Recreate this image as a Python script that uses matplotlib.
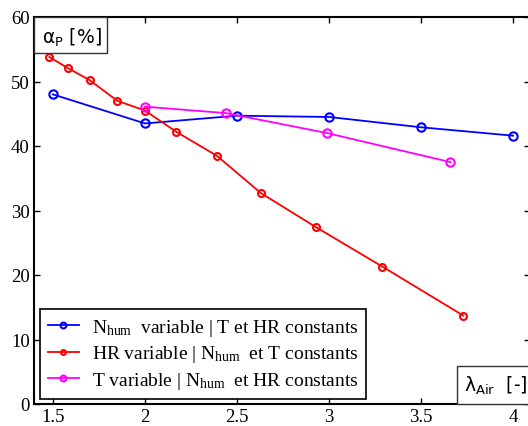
import matplotlib
matplotlib.use("Agg")
import matplotlib.pyplot as plt
from matplotlib.patches import Rectangle

# données
lam_nhum = [1.5, 2.0, 2.5, 3.0, 3.5, 4.0]
alpha_nhum = [48.0, 43.5, 44.7, 44.5, 42.9, 41.6]

lam_hr = [1.48, 1.58, 1.70, 1.85, 2.0, 2.17, 2.39, 2.63, 2.93, 3.29, 3.73]
alpha_hr = [53.8, 52.1, 50.2, 47.0, 45.5, 42.2, 38.5, 32.7, 27.4, 21.3, 13.7]

lam_t = [2.0, 2.44, 2.99, 3.66]
alpha_t = [46.1, 45.1, 42.0, 37.5]

labels = [r"N$_{\mathregular{hum}}\ $ variable | T et HR constants",
          r"HR variable | N$_{\mathregular{hum}}\ $ et T constants",
          r"T variable | N$_{\mathregular{hum}}\ $ et HR constants"]
xticks = [1.5, 2, 2.5, 3, 3.5, 4]
yticks = [0, 10, 20, 30, 40, 50, 60]

plt.rcParams['font.family'] = ['Liberation Serif', 'DejaVu Serif']
plt.rcParams['mathtext.fontset'] = 'custom'
plt.rcParams['mathtext.rm'] = 'Liberation Serif'
plt.rcParams['mathtext.it'] = 'Liberation Serif:italic'

W, H = 528, 427
fig = plt.figure(figsize=(W / 100, H / 100), dpi=100)
ax = fig.add_axes([34 / W, (H - 405) / H, 496 / W, 387 / H])

kw = dict(marker='o', mfc='none', lw=1.3, mew=1.5)
ax.plot(lam_nhum, alpha_nhum, color='#0000ff', ms=6, label=labels[0], **kw)
ax.plot(lam_hr, alpha_hr, color='#ff0000', ms=5, label=labels[1], **kw)
ax.plot(lam_t, alpha_t, color='#ff00ff', ms=6, label=labels[2], **kw)

ax.set_xlim(1.397, 4.092)
ax.set_ylim(0, 60)
ax.set_xticks(xticks)
ax.set_xticklabels(['1.5', '2', '2.5', '3', '3.5', '4'])
ax.set_yticks(yticks)
ax.tick_params(direction='in', top=True, right=True, length=4, width=1,
               labelsize=13.5, pad=3)
for s in ax.spines.values():
    s.set_linewidth(1.5)

# boîtes des étiquettes d'axes (style MATLAB)
ax.add_patch(Rectangle((0, 1 - 36 / 387), 73 / 496, 36 / 387, transform=ax.transAxes,
                       fc='white', ec='#333333', lw=1, zorder=5))
ax.text(8 / 496, 1 - 20 / 387, r"$\mathsf{\alpha_P}$ [%]", transform=ax.transAxes,
        fontsize=13.5, family=['DejaVu Sans'], va='center', ha='left', zorder=6)
ax.add_patch(Rectangle((423 / 496, 0), 80 / 496, 38 / 387, transform=ax.transAxes,
                       fc='white', ec='#333333', lw=1, zorder=5, clip_on=False))
ax.text(430 / 496, 19 / 387, r"$\mathsf{\lambda_{Air}}$  [-]", transform=ax.transAxes,
        fontsize=13.5, family=['DejaVu Sans'], va='center', ha='left', zorder=6)

leg = ax.legend(loc='lower left', bbox_to_anchor=(6 / 496, 5 / 387), fontsize=14,
                frameon=True, fancybox=False, edgecolor='black', framealpha=1,
                borderaxespad=0, handlelength=1.6, labelspacing=0.3, borderpad=0.4,
                handletextpad=0.65, markerscale=0.7)
leg.get_frame().set_linewidth(1.2)

fig.savefig('out.png', dpi=100)
